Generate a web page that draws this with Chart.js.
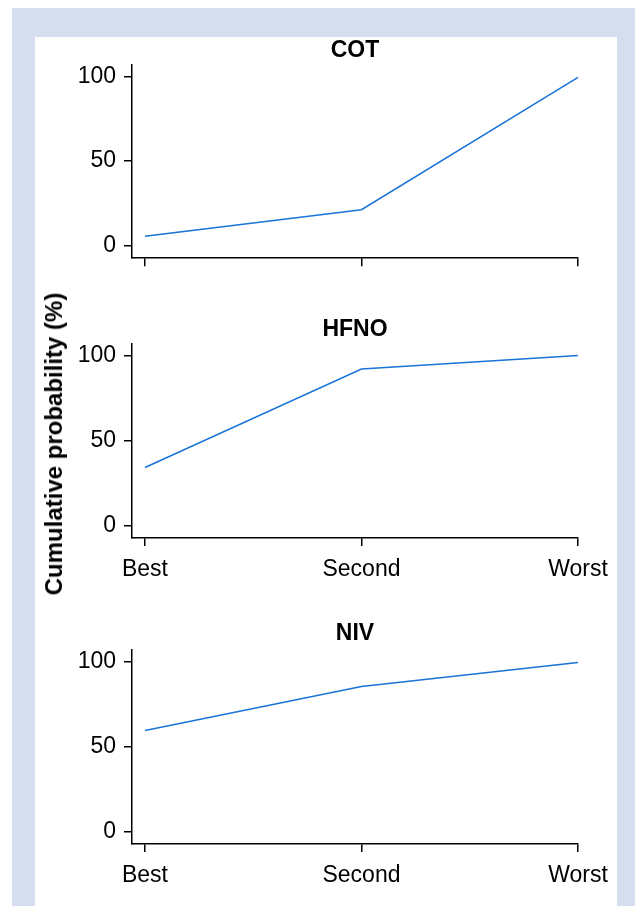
<!DOCTYPE html>
<html>
<head>
<meta charset="utf-8">
<script src="https://cdn.jsdelivr.net/npm/chart.js@4"></script>
<style>
  html, body { margin: 0; padding: 0; background: #ffffff; }
  #page { position: relative; width: 635px; height: 906px; overflow: hidden; background: #ffffff; }
  #frame { position: absolute; left: 12px; top: 8px; width: 623px; height: 898px; background: #d4deee; }
  #panel { position: absolute; left: 35px; top: 37px; width: 582px; height: 869px; background: #ffffff; }
  canvas { position: absolute; left: 0; }
  #ytitle { position: absolute; left: 54px; top: 444px; transform: translate(-50%, -50%) rotate(-90deg);
            font: bold 24px 'Liberation Sans', Arial, sans-serif; color: #000; white-space: nowrap; }
</style>
</head>
<body>
<div id="page">
  <div id="frame"></div>
  <div id="panel"></div>
  <canvas id="c1" width="635" height="255" style="top:25px"></canvas>
  <canvas id="c2" width="635" height="298" style="top:300px"></canvas>
  <canvas id="c3" width="635" height="301" style="top:605px"></canvas>
  <div id="ytitle">Cumulative probability (%)</div>
</div>
<script>
const categories = ['Best', 'Second', 'Worst'];
const yTicks = [0, 50, 100];
const cotValues = [5.5, 21.2, 99.5];
const hfnoValues = [34, 92, 100];
const nivValues = [59.3, 85.3, 99.4];

const FONT = "'Liberation Sans', Arial, sans-serif";
const LINE_COLOR = '#1874d8';

function makeChart(id, title, values, showXLabels, xHeight, titlePad) {
  const pts = values.map((v, i) => ({ x: i, y: v }));
  return new Chart(document.getElementById(id), {
    type: 'line',
    data: { datasets: [{ data: pts, borderColor: LINE_COLOR, borderWidth: 1.5, pointRadius: 0, fill: false, tension: 0 }] },
    options: {
      responsive: false,
      animation: false,
      devicePixelRatio: 1,
      layout: { padding: { left: 0, right: 57, top: 0, bottom: 0 } },
      plugins: {
        legend: { display: false },
        tooltip: { enabled: false },
        title: {
          display: true, text: title, fullSize: false, color: '#000',
          font: { family: FONT, size: 23, weight: 'bold' },
          padding: titlePad
        }
      },
      scales: {
        x: {
          type: 'linear', min: -0.06, max: 2,
          afterBuildTicks: s => { s.ticks = categories.map((c, i) => ({ value: i })); },
          afterFit: s => { s.height = xHeight; },
          border: { display: true, color: '#000', width: 1.5 },
          grid: { display: true, drawOnChartArea: false, drawTicks: true, tickLength: 8, color: '#000', lineWidth: 1.5 },
          ticks: {
            display: showXLabels, color: '#000', padding: 10, maxRotation: 0, autoSkip: false,
            font: { family: FONT, size: 23 },
            callback: v => categories[v]
          }
        },
        y: {
          type: 'linear', min: -7.5, max: 107,
          afterBuildTicks: s => { s.ticks = yTicks.map(v => ({ value: v })); },
          afterFit: s => { s.width = 132; },
          border: { display: true, color: '#000', width: 1.5 },
          grid: { display: true, drawOnChartArea: false, drawTicks: true, tickLength: 8, color: '#000', lineWidth: 1.5 },
          ticks: { color: '#000', padding: 8, font: { family: FONT, size: 23 } }
        }
      }
    }
  });
}

makeChart('c1', 'COT', cotValues, false, 21, { top: 12, bottom: 0 });
makeChart('c2', 'HFNO', hfnoValues, true, 60, { top: 16, bottom: 0 });
makeChart('c3', 'NIV', nivValues, true, 62, { top: 15, bottom: 2 });
</script>
</body>
</html>
